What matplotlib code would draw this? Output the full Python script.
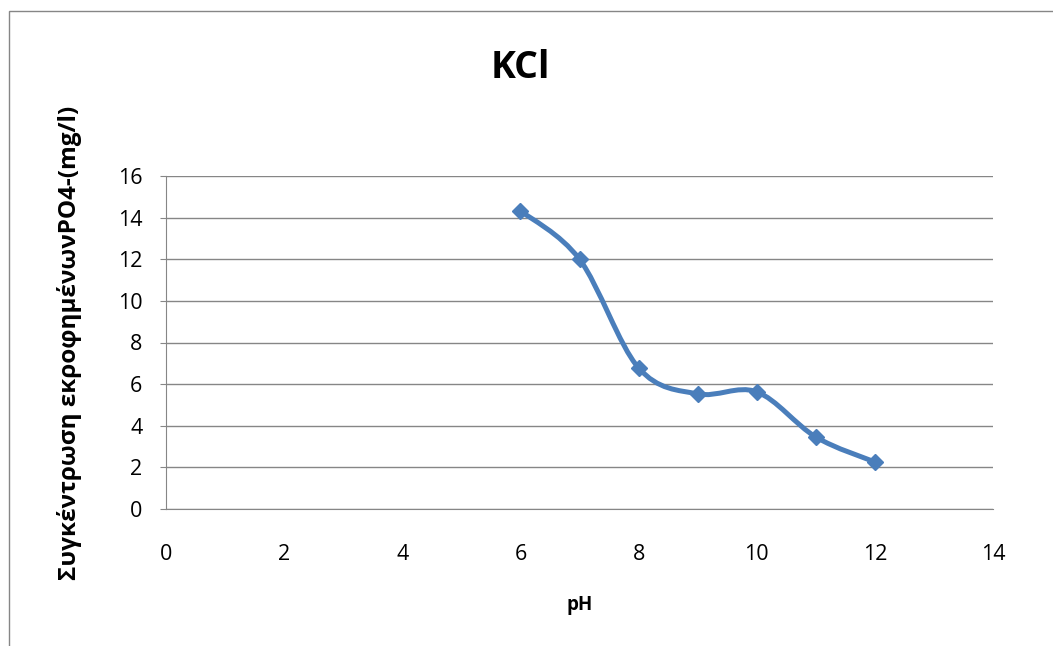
#!/usr/bin/env python3
"""KCl desorption curve: PO4 concentration vs pH (Excel-style smoothed line)."""
import numpy as np
import matplotlib
matplotlib.use("Agg")
import matplotlib.pyplot as plt
from matplotlib.path import Path
from matplotlib.patches import PathPatch, Rectangle

plt.rcParams.update({"font.family": ["Open Sans", "DejaVu Sans"]})

ph = [6, 7, 8, 9, 10, 11, 12]
conc = [14.33, 12.0, 6.78, 5.53, 5.63, 3.46, 2.26]
x_ticks = [0, 2, 4, 6, 8, 10, 12, 14]
y_ticks = [0, 2, 4, 6, 8, 10, 12, 14, 16]

BLUE = "#4a7ebb"
GREY = "#868686"


def smooth_path(xs, ys):
    # Catmull-Rom style bezier, similar to Excel's "smoothed line"
    p = np.column_stack([xs, ys]).astype(float)
    verts = [p[0]]
    codes = [Path.MOVETO]
    n = len(p)
    for i in range(n - 1):
        p0 = p[i - 1] if i > 0 else p[i]
        p3 = p[i + 2] if i + 2 < n else p[i + 1]
        c1 = p[i] + (p[i + 1] - p0) / 6
        c2 = p[i + 1] - (p3 - p[i]) / 6
        verts += [c1, c2, p[i + 1]]
        codes += [Path.CURVE4] * 3
    return Path(verts, codes)


fig = plt.figure(figsize=(10.53, 6.46), dpi=100)
# outer chart frame
fig.patches.append(Rectangle((9 / 1053, -0.05), 1.1, 1 - 11 / 646 + 0.05,
                             transform=fig.transFigure, fill=False,
                             edgecolor=GREY, lw=1.0))
ax = fig.add_axes([166 / 1053, 1 - 509 / 646, (993 - 166) / 1053, (509 - 176) / 646])

ax.add_patch(PathPatch(smooth_path(ph, conc), facecolor="none",
                       edgecolor=BLUE, lw=3.6, capstyle="round", zorder=3))
ax.plot(ph, conc, ls="none", marker="D", ms=8.5, color=BLUE, zorder=4)

ax.set_xlim(0, 14)
ax.set_ylim(0, 16)
ax.set_xticks(x_ticks)
ax.set_yticks(y_ticks)
ax.yaxis.grid(True, color=GREY, lw=1.0)
ax.set_axisbelow(True)
ax.spines[["top", "right"]].set_visible(False)
ax.spines[["left", "bottom"]].set_color(GREY)
ax.tick_params(axis="x", length=0, pad=25, labelsize=15.5)
ax.tick_params(axis="y", length=4, color=GREY, pad=13, labelsize=15.5)

ax.set_xlabel("pH", fontsize=13.5, fontweight="bold", labelpad=22)
ax.set_ylabel("Συγκέντρωση εκροφημένωνPO4-(mg/l)", fontsize=17.5,
              fontweight="bold", labelpad=26)
fig.text(520 / 1053, 1 - 68 / 646, "KCl", fontsize=27, fontweight="bold",
         ha="center", va="center")

fig.savefig("out.png", dpi=100)
